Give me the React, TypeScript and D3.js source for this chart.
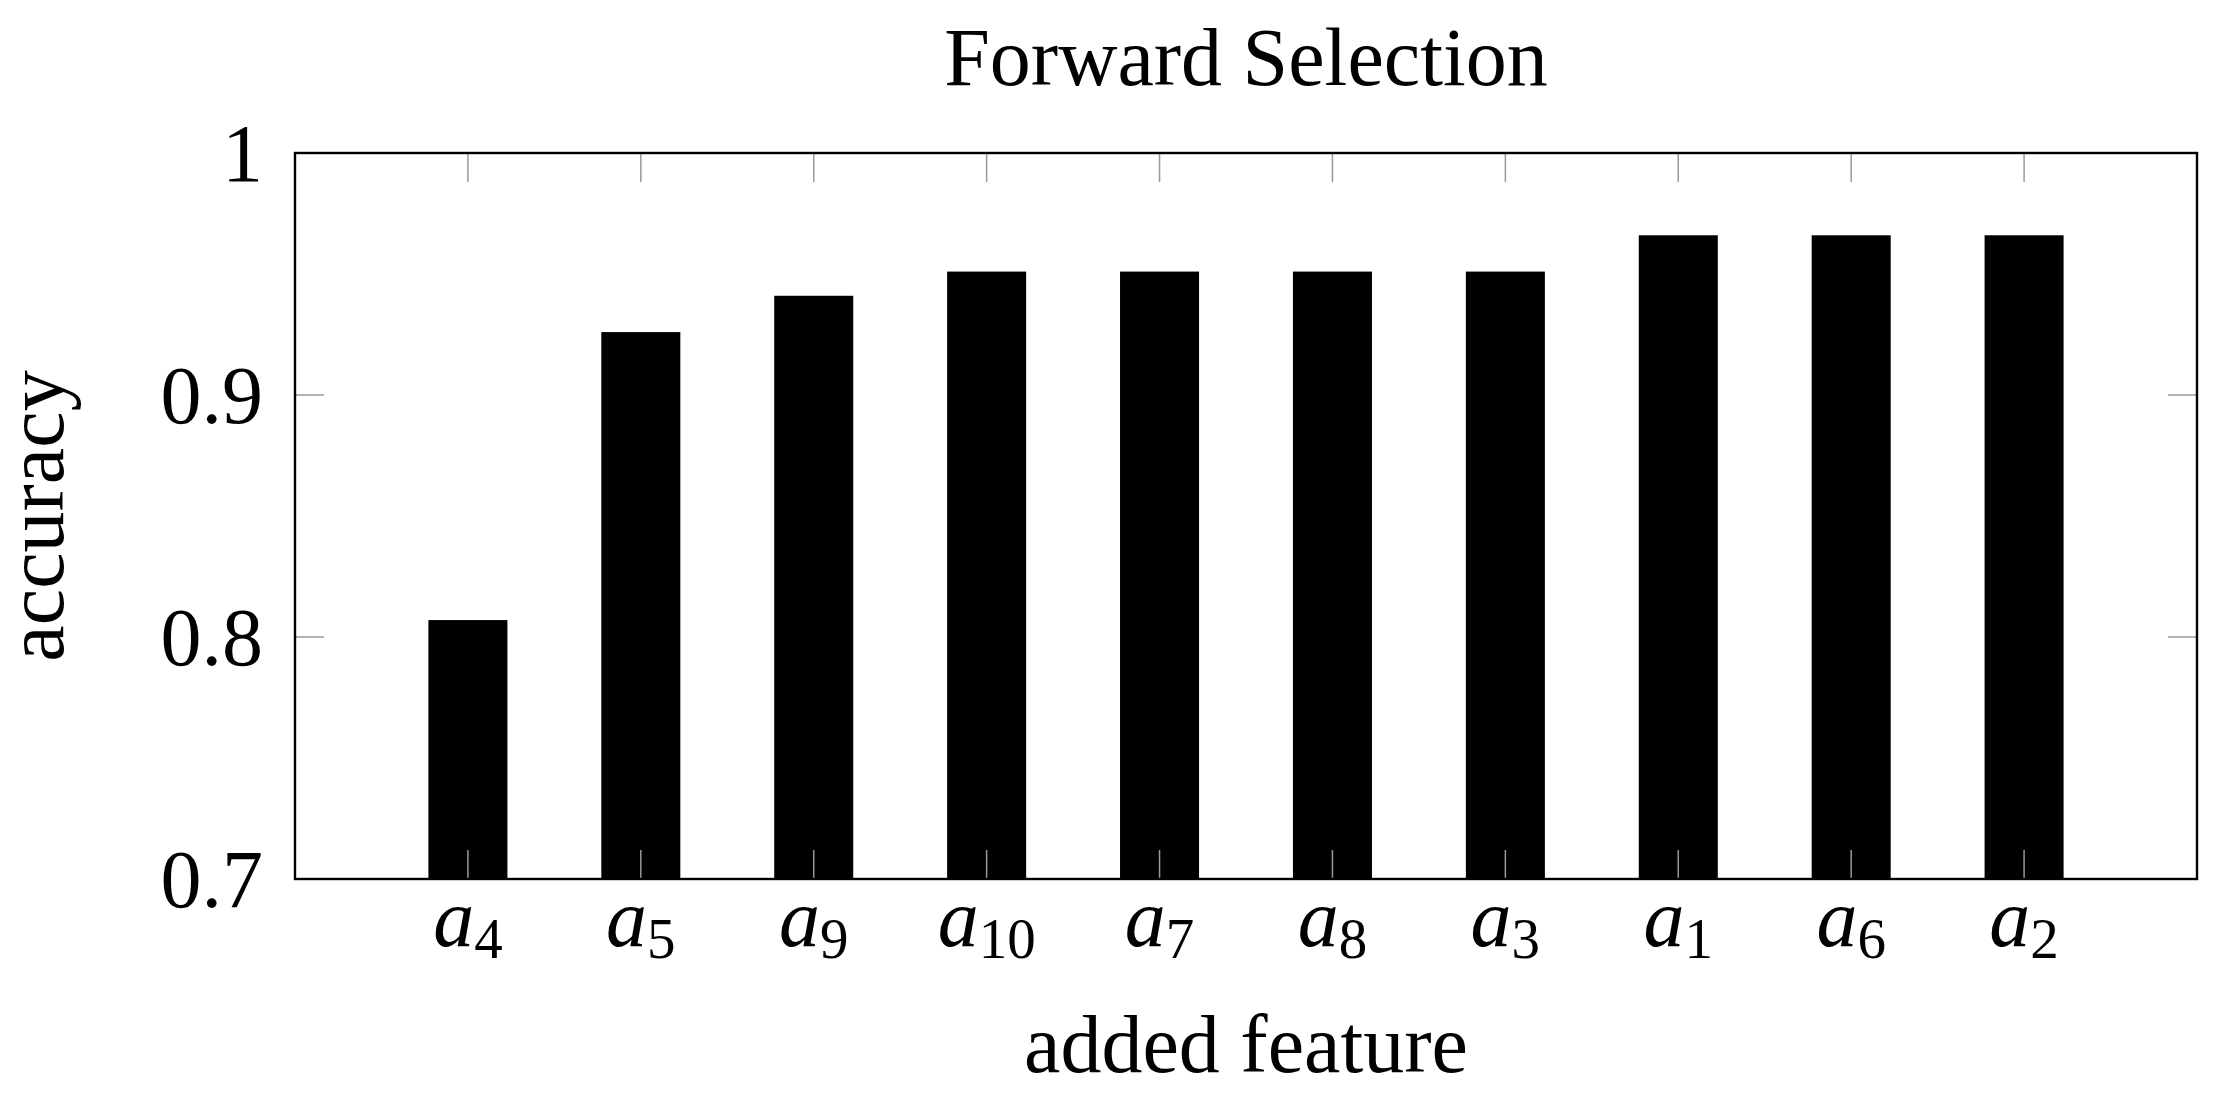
import React, { useEffect, useRef } from 'react'
import * as d3 from 'd3'

const features = ['4', '5', '9', '10', '7', '8', '3', '1', '6', '2']
const accuracy = [0.807, 0.926, 0.941, 0.951, 0.951, 0.951, 0.951, 0.966, 0.966, 0.966]
const yTicks = [0.7, 0.8, 0.9, 1]
const yTickLabels = ['0.7', '0.8', '0.9', '1']

const width = 2223, height = 1095
const margin = { top: 153, right: 26, bottom: 216, left: 295 }
const innerW = width - margin.left - margin.right
const innerH = height - margin.top - margin.bottom
const font = '"Liberation Serif", "Times New Roman", serif'
const fontSize = 82
const tickLen = 29

export default function App() {
  const ref = useRef<SVGSVGElement>(null)

  useEffect(() => {
    const svg = d3.select(ref.current)
    svg.selectAll('*').remove()

    const x = d3.scalePoint<string>()
      .domain(features)
      .range([0, innerW])
      .padding(1)

    const barW = x.step() * 0.457

    const y = d3.scaleLinear()
      .domain([0.7, 1])
      .range([innerH, 0])

    const g = svg.append('g')
      .attr('transform', `translate(${margin.left},${margin.top})`)

    // bars
    g.append('g')
      .selectAll('rect')
      .data(features)
      .join('rect')
      .attr('x', d => x(d)! - barW / 2)
      .attr('width', barW)
      .attr('y', (d, i) => y(accuracy[i]))
      .attr('height', (d, i) => y(0.7) - y(accuracy[i]))
      .attr('fill', 'black')

    // ticks (inside, gray) drawn over bars
    const ticks = g.append('g')
      .attr('stroke', '#999')
      .attr('stroke-width', 1.5)

    ticks.selectAll('line.xb')
      .data(features)
      .join('line')
      .attr('class', 'xb')
      .attr('x1', d => x(d)!).attr('x2', d => x(d)!)
      .attr('y1', innerH).attr('y2', innerH - tickLen)

    ticks.selectAll('line.xt')
      .data(features)
      .join('line')
      .attr('class', 'xt')
      .attr('x1', d => x(d)!).attr('x2', d => x(d)!)
      .attr('y1', 0).attr('y2', tickLen)

    ticks.selectAll('line.yl')
      .data(yTicks)
      .join('line')
      .attr('class', 'yl')
      .attr('x1', 0).attr('x2', tickLen)
      .attr('y1', d => y(d)).attr('y2', d => y(d))

    ticks.selectAll('line.yr')
      .data(yTicks)
      .join('line')
      .attr('class', 'yr')
      .attr('x1', innerW).attr('x2', innerW - tickLen)
      .attr('y1', d => y(d)).attr('y2', d => y(d))

    // frame
    g.append('rect')
      .attr('width', innerW)
      .attr('height', innerH)
      .attr('fill', 'none')
      .attr('stroke', 'black')
      .attr('stroke-width', 2.4)

    // y tick labels
    g.append('g')
      .attr('font-family', font)
      .attr('font-size', fontSize)
      .attr('text-anchor', 'end')
      .selectAll('text')
      .data(yTicks)
      .join('text')
      .attr('x', -32)
      .attr('y', d => y(d) + 28)
      .text((d, i) => yTickLabels[i])

    // x tick labels: a_i
    const xl = g.append('g')
      .attr('font-family', font)
      .attr('font-size', fontSize)
      .attr('text-anchor', 'middle')
      .selectAll('text')
      .data(features)
      .join('text')
      .attr('x', d => x(d)!)
      .attr('y', innerH + 67)

    xl.append('tspan')
      .attr('font-style', 'italic')
      .text('a')
    xl.append('tspan')
      .attr('font-size', 57)
      .attr('dy', 12)
      .text(d => d)

    // axis titles
    svg.append('text')
      .attr('x', margin.left + innerW / 2)
      .attr('y', 85)
      .attr('font-family', font)
      .attr('font-size', fontSize)
      .attr('text-anchor', 'middle')
      .text('Forward Selection')

    svg.append('text')
      .attr('x', margin.left + innerW / 2)
      .attr('y', 1072)
      .attr('font-family', font)
      .attr('font-size', fontSize)
      .attr('text-anchor', 'middle')
      .text('added feature')

    svg.append('text')
      .attr('transform', `translate(63,${margin.top + innerH / 2}) rotate(-90)`)
      .attr('font-family', font)
      .attr('font-size', fontSize)
      .attr('text-anchor', 'middle')
      .text('accuracy')
  }, [])

  return (
    <svg
      ref={ref}
      width={width}
      height={height}
      style={{ position: 'absolute', left: 0, top: 0, background: 'white' }}
    />
  )
}
